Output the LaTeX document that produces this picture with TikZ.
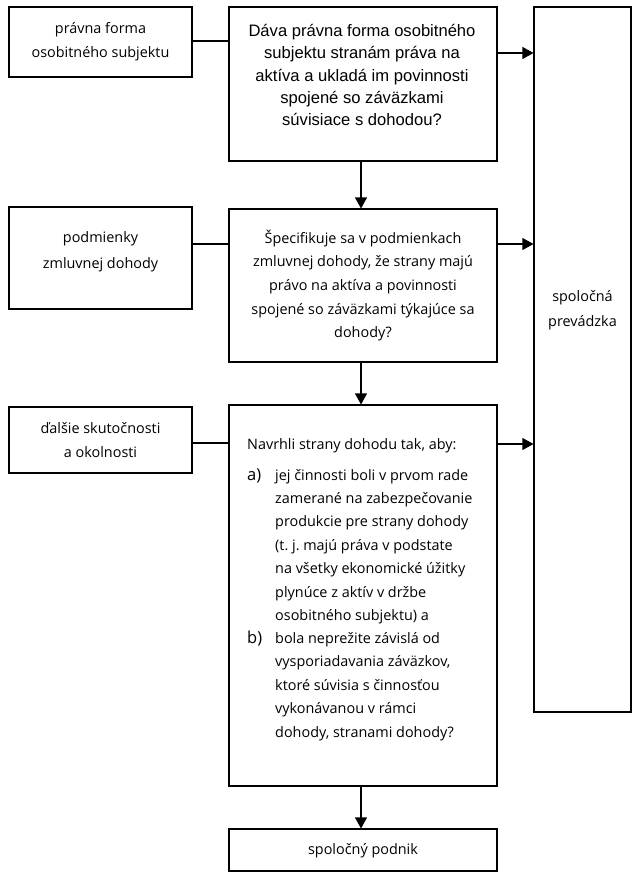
\documentclass[tikz,border=0pt]{standalone}
\usepackage{fontspec}
\setmainfont{Open Sans}
\newfontfamily\arialf{Liberation Sans}
\usetikzlibrary{arrows.meta}
\frenchspacing
\begin{document}
\begin{tikzpicture}[x=1pt,y=-1pt,
  box/.style={draw=black, line width=1.1pt, inner sep=0pt},
  txt/.style={inner sep=0pt, align=center, font=\fontsize{14.4}{24}\selectfont},
  qtxt/.style={inner sep=0pt, align=center, font=\arialf\fontsize{16.6}{22.3}\selectfont},
  ltxt/.style={inner sep=0pt, align=left, font=\fontsize{14.4}{23.4}\selectfont},
  listmark/.style={inner sep=0pt, font=\fontsize{16.5}{20}\selectfont},
  conn/.style={line width=1.1pt},
  arr/.style={line width=1.1pt, -{Triangle[length=11pt,width=12pt]}}]
\useasboundingbox (0,0) rectangle (639,878);
% boxes
\node[box, minimum width=183pt, minimum height=70pt] (b1) at (100.5,42) {};
\node[box, minimum width=268pt, minimum height=154pt] (c1) at (363,84) {};
\node[box, minimum width=97pt, minimum height=705pt] (R) at (582.5,359.5) {};
\node[box, minimum width=183pt, minimum height=102pt] (b2) at (100.5,258) {};
\node[box, minimum width=268pt, minimum height=153pt] (c2) at (363,285.5) {};
\node[box, minimum width=183pt, minimum height=66pt] (b3) at (100.5,440) {};
\node[box, minimum width=268pt, minimum height=381pt] (c3) at (363,595.5) {};
\node[box, minimum width=268pt, minimum height=42pt] (b4) at (363,850) {};
% texts
\node[txt] (t1) at (100.5,41.5) {právna forma\\osobitného subjektu};
\node[qtxt] (tq1) at (362,75) {Dáva právna forma osobitného\\subjektu stranám práva na\\aktíva a ukladá im povinnosti\\spojené so záväzkami\\súvisiace s dohodou?};
\node[txt, font=\fontsize{14.4}{25.5}\selectfont] (t2) at (100.5,252) {podmienky\\zmluvnej dohody};
\node[txt, font=\fontsize{14.4}{23.7}\selectfont] (tq2) at (363,285.5) {Špecifikuje sa v podmienkach\\zmluvnej dohody, že strany majú\\právo na aktíva a povinnosti\\spojené so záväzkami týkajúce sa\\dohody?};
\node[txt] (t3) at (100.5,440) {ďalšie skutočnosti\\a okolnosti};
\node[txt, font=\fontsize{14.4}{25}\selectfont] (tR) at (582.5,310) {spoločná\\prevádzka};
\node[txt] (t4) at (363,851) {spoločný podnik};
\node[ltxt, anchor=west] (na) at (247,446) {Navrhli strany dohodu tak, aby:};
\node[listmark, anchor=west] (la) at (247,476) {a)};
\node[ltxt, anchor=west] (ta) at (275,546.5) {jej činnosti boli v prvom rade\\zamerané na zabezpečovanie\\produkcie pre strany dohody\\(t. j. majú práva v podstate\\na všetky ekonomické úžitky\\plynúce z aktív v držbe\\osobitného subjektu) a};
\node[listmark, anchor=west] (lb) at (247,639) {b)};
\node[ltxt, anchor=west] (tb) at (275,686.5) {bola neprežite závislá od\\vysporiadavania záväzkov,\\ktoré súvisia s činnosťou\\vykonávanou v rámci\\dohody, stranami dohody?};
% connector levels
\coordinate (y1) at (0,41);
\coordinate (z1) at (0,53);
\coordinate (y2) at (0,244);
\coordinate (y3) at (0,443);
\coordinate (z3) at (0,444);
\coordinate (vx) at (361,0);
% connectors
\draw[conn] (b1.east |- y1) -- (c1.west |- y1);
\draw[arr] (c1.east |- z1) -- (R.west |- z1);
\draw[arr] (c1.south -| vx) -- (c2.north -| vx);
\draw[conn] (b2.east |- y2) -- (c2.west |- y2);
\draw[arr] (c2.east |- y2) -- (R.west |- y2);
\draw[arr] (c2.south -| vx) -- (c3.north -| vx);
\draw[conn] (b3.east |- y3) -- (c3.west |- y3);
\draw[arr] (c3.east |- z3) -- (R.west |- z3);
\draw[arr] (c3.south -| vx) -- (b4.north -| vx);
\end{tikzpicture}
\end{document}
